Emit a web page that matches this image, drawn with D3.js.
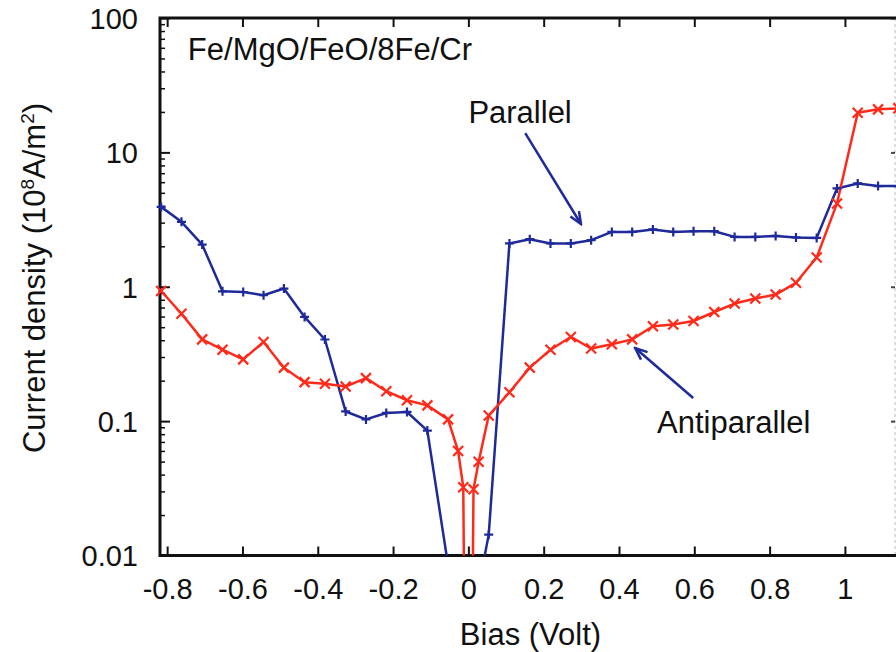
<!DOCTYPE html>
<html lang="en">
<head>
    <meta charset="UTF-8">
    <title>Current density vs bias</title>
    <script src="https://d3js.org/d3.v7.min.js"></script>
    <style>
        body {
            margin: 0;
            background-color: #ffffff;
            font-family: "Liberation Sans", Arial, Helvetica, sans-serif;
        }
        svg text {
            fill: #111111;
        }
        .tick-label {
            font-size: 29px;
        }
        .axis-title {
            font-size: 31px;
        }
        .note {
            font-size: 31px;
        }
    </style>
</head>
<body>
    <svg id="chart" width="896" height="652"></svg>

    <script>
        // bias points (Volt), step 0.004 Ry with finer points around zero
        const parallelBias = [-0.816, -0.762, -0.707, -0.653, -0.598, -0.544, -0.490, -0.435, -0.381, -0.326,
            -0.272, -0.218, -0.163, -0.109, -0.054, 0, 0.054, 0.109, 0.163, 0.218, 0.272, 0.326, 0.381,
            0.435, 0.490, 0.544, 0.598, 0.653, 0.707, 0.762, 0.816, 0.870, 0.925, 0.979, 1.034, 1.088, 1.142];
        const parallelJ = [3.93, 3.04, 2.06, 0.925, 0.914, 0.865, 0.97, 0.596, 0.405, 0.118,
            0.103, 0.115, 0.117, 0.085, 0.0085, 0.0023, 0.0143, 2.1, 2.26, 2.1, 2.1, 2.22, 2.56,
            2.56, 2.67, 2.56, 2.59, 2.59, 2.35, 2.35, 2.39, 2.33, 2.31, 5.39, 5.87, 5.61, 5.61];

        const antiBias = [-0.816, -0.762, -0.707, -0.653, -0.598, -0.544, -0.490, -0.435, -0.381, -0.326,
            -0.272, -0.218, -0.163, -0.109, -0.054, -0.0272, -0.0136, 0, 0.0136, 0.0272, 0.054, 0.109,
            0.163, 0.218, 0.272, 0.326, 0.381, 0.435, 0.490, 0.544, 0.598, 0.653, 0.707, 0.762, 0.816,
            0.870, 0.925, 0.979, 1.034, 1.088, 1.142];
        const antiJ = [0.93, 0.63, 0.406, 0.34, 0.288, 0.388, 0.25, 0.195, 0.19, 0.181,
            0.209, 0.167, 0.143, 0.131, 0.103, 0.0599, 0.0322, 0.000001, 0.0311, 0.0499, 0.110, 0.164,
            0.25, 0.34, 0.423, 0.347, 0.373, 0.406, 0.508, 0.523, 0.556, 0.649, 0.75, 0.817, 0.875,
            1.07, 1.65, 4.17, 19.7, 20.9, 21.3];

        const xTicks = [-0.8, -0.6, -0.4, -0.2, 0, 0.2, 0.4, 0.6, 0.8, 1];
        const xTickLabels = ["-0.8", "-0.6", "-0.4", "-0.2", "0", "0.2", "0.4", "0.6", "0.8", "1"];
        const yTicks = [0.01, 0.1, 1, 10, 100];
        const yTickLabels = ["0.01", "0.1", "1", "10", "100"];

        const blue = "#1f2a9a";
        const red = "#ff2a1a";

        const plotLeft = 160, plotRight = 895, plotTop = 18, plotBottom = 555.5;

        const svg = d3.select("#chart");

        const x = d3.scaleLinear()
            .domain([-0.819, 1.133])
            .range([plotLeft, plotRight]);

        const y = d3.scaleLog()
            .domain([0.01, 100])
            .range([plotBottom, plotTop]);

        const defs = svg.append("defs");
        defs.append("clipPath")
            .attr("id", "plot-clip")
          .append("rect")
            .attr("x", plotLeft)
            .attr("y", plotTop)
            .attr("width", plotRight - plotLeft + 5)
            .attr("height", plotBottom - plotTop);

        defs.append("marker")
            .attr("id", "arrowhead")
            .attr("markerUnits", "userSpaceOnUse")
            .attr("viewBox", "-14 -7 16 14")
            .attr("markerWidth", 16)
            .attr("markerHeight", 14)
            .attr("refX", 0)
            .attr("refY", 0)
            .attr("orient", "auto")
          .append("path")
            .attr("d", "M-12,-5 L0,0 L-12,5")
            .attr("fill", "none")
            .attr("stroke", blue)
            .attr("stroke-width", 2.5);

        // minor log ticks on left axis
        const minorTicks = [];
        for (let e = -2; e < 2; e++) {
            for (let m = 2; m <= 9; m++) minorTicks.push(m * Math.pow(10, e));
        }

        svg.append("g")
            .attr("transform", `translate(${plotLeft},0)`)
            .call(d3.axisLeft(y).tickValues(minorTicks).tickSize(-5).tickFormat(""))
            .call(g => g.select(".domain").remove())
            .call(g => g.selectAll(".tick line").attr("stroke", "#111").attr("stroke-width", 1.5));

        const yAxis = svg.append("g")
            .attr("transform", `translate(${plotLeft},0)`)
            .call(d3.axisLeft(y).tickValues(yTicks).tickSize(-10).tickPadding(22)
                .tickFormat((d, i) => yTickLabels[i]));
        yAxis.select(".domain").remove();
        yAxis.selectAll(".tick line").attr("stroke", "#111").attr("stroke-width", 2);
        yAxis.selectAll(".tick text")
            .attr("class", "tick-label")
            .attr("fill", null)
            .attr("dy", "0.36em");
        yAxis.attr("font-family", null).attr("font-size", null);

        // right axis: faint dashed line, short ticks
        svg.append("line")
            .attr("x1", plotRight).attr("x2", plotRight)
            .attr("y1", plotTop).attr("y2", plotBottom)
            .attr("stroke", "#bbbbbb")
            .attr("stroke-width", 1)
            .attr("stroke-dasharray", "3,3");
        svg.append("g")
            .attr("transform", `translate(${plotRight},0)`)
            .call(d3.axisRight(y).tickValues(yTicks).tickSize(-4).tickFormat(""))
            .call(g => g.select(".domain").remove())
            .call(g => g.selectAll(".tick line").attr("stroke", "#444").attr("stroke-width", 2));

        const xAxis = svg.append("g")
            .attr("transform", `translate(0,${plotBottom})`)
            .call(d3.axisBottom(x).tickValues(xTicks).tickSize(-9).tickPadding(23)
                .tickFormat((d, i) => xTickLabels[i]));
        xAxis.select(".domain").remove();
        xAxis.selectAll(".tick line").attr("stroke", "#111").attr("stroke-width", 2);
        xAxis.selectAll(".tick text")
            .attr("class", "tick-label")
            .attr("fill", null)
            .attr("dy", "0.71em");
        xAxis.attr("font-family", null).attr("font-size", null);

        svg.append("g")
            .attr("transform", `translate(0,${plotTop})`)
            .call(d3.axisTop(x).tickValues(xTicks).tickSize(-9).tickFormat(""))
            .call(g => g.select(".domain").remove())
            .call(g => g.selectAll(".tick line").attr("stroke", "#111").attr("stroke-width", 2));

        // frame: left, top, bottom in black
        svg.append("path")
            .attr("d", `M${plotRight + 1},${plotTop} H${plotLeft} V${plotBottom} H${plotRight + 1}`)
            .attr("fill", "none")
            .attr("stroke", "#111")
            .attr("stroke-width", 3);

        const line = d3.line()
            .x(d => x(d[0]))
            .y(d => y(d[1]));

        const parallel = parallelBias.map((b, i) => [b, parallelJ[i]]);
        const anti = antiBias.map((b, i) => [b, antiJ[i]]);

        const plot = svg.append("g").attr("clip-path", "url(#plot-clip)");

        plot.append("path")
            .datum(parallel)
            .attr("d", line)
            .attr("fill", "none")
            .attr("stroke", blue)
            .attr("stroke-width", 2.5)
            .attr("stroke-linejoin", "round");

        plot.append("path")
            .datum(anti)
            .attr("d", line)
            .attr("fill", "none")
            .attr("stroke", red)
            .attr("stroke-width", 2.5)
            .attr("stroke-linejoin", "round");

        const inRange = d => d[1] >= 0.01 && d[1] <= 100;

        // plus markers for parallel
        svg.append("g").selectAll("path")
            .data(parallel.filter(inRange))
            .join("path")
            .attr("transform", d => `translate(${x(d[0])},${y(d[1])})`)
            .attr("d", "M-4.5,0 H4.5 M0,-4.5 V4.5")
            .attr("stroke", blue)
            .attr("stroke-width", 2.2);

        // cross markers for antiparallel
        svg.append("g").selectAll("path")
            .data(anti.filter(inRange))
            .join("path")
            .attr("transform", d => `translate(${x(d[0])},${y(d[1])})`)
            .attr("d", "M-5,-5 L5,5 M-5,5 L5,-5")
            .attr("stroke", red)
            .attr("stroke-width", 2.2);

        // annotations
        svg.append("text")
            .attr("class", "note")
            .attr("x", x(-0.745))
            .attr("y", y(48.7))
            .text("Fe/MgO/FeO/8Fe/Cr");

        svg.append("text")
            .attr("class", "note")
            .attr("x", x(0.0))
            .attr("y", y(16.5))
            .text("Parallel");

        svg.append("text")
            .attr("class", "note")
            .attr("x", x(0.501))
            .attr("y", y(0.0816))
            .text("Antiparallel");

        svg.append("line")
            .attr("x1", x(0.151)).attr("y1", y(13.9))
            .attr("x2", x(0.299)).attr("y2", y(2.93))
            .attr("stroke", blue)
            .attr("stroke-width", 2.5)
            .attr("marker-end", "url(#arrowhead)");

        svg.append("line")
            .attr("x1", x(0.597)).attr("y1", y(0.1486))
            .attr("x2", x(0.443)).attr("y2", y(0.35))
            .attr("stroke", blue)
            .attr("stroke-width", 2.5)
            .attr("marker-end", "url(#arrowhead)");

        // axis titles
        svg.append("text")
            .attr("class", "axis-title")
            .attr("x", (plotLeft + plotRight) / 2 + 3)
            .attr("y", 645)
            .attr("text-anchor", "middle")
            .text("Bias (Volt)");

        const yTitle = svg.append("text")
            .attr("class", "axis-title")
            .attr("transform", "translate(45,278) rotate(-90)")
            .attr("text-anchor", "middle");
        yTitle.append("tspan").text("Current density (10");
        yTitle.append("tspan").attr("font-size", "19px").attr("dy", "-11").text("8");
        yTitle.append("tspan").attr("dy", "11").text("A/m");
        yTitle.append("tspan").attr("font-size", "19px").attr("dy", "-11").text("2");
        yTitle.append("tspan").attr("dy", "11").text(")");
    </script>
</body>
</html>
